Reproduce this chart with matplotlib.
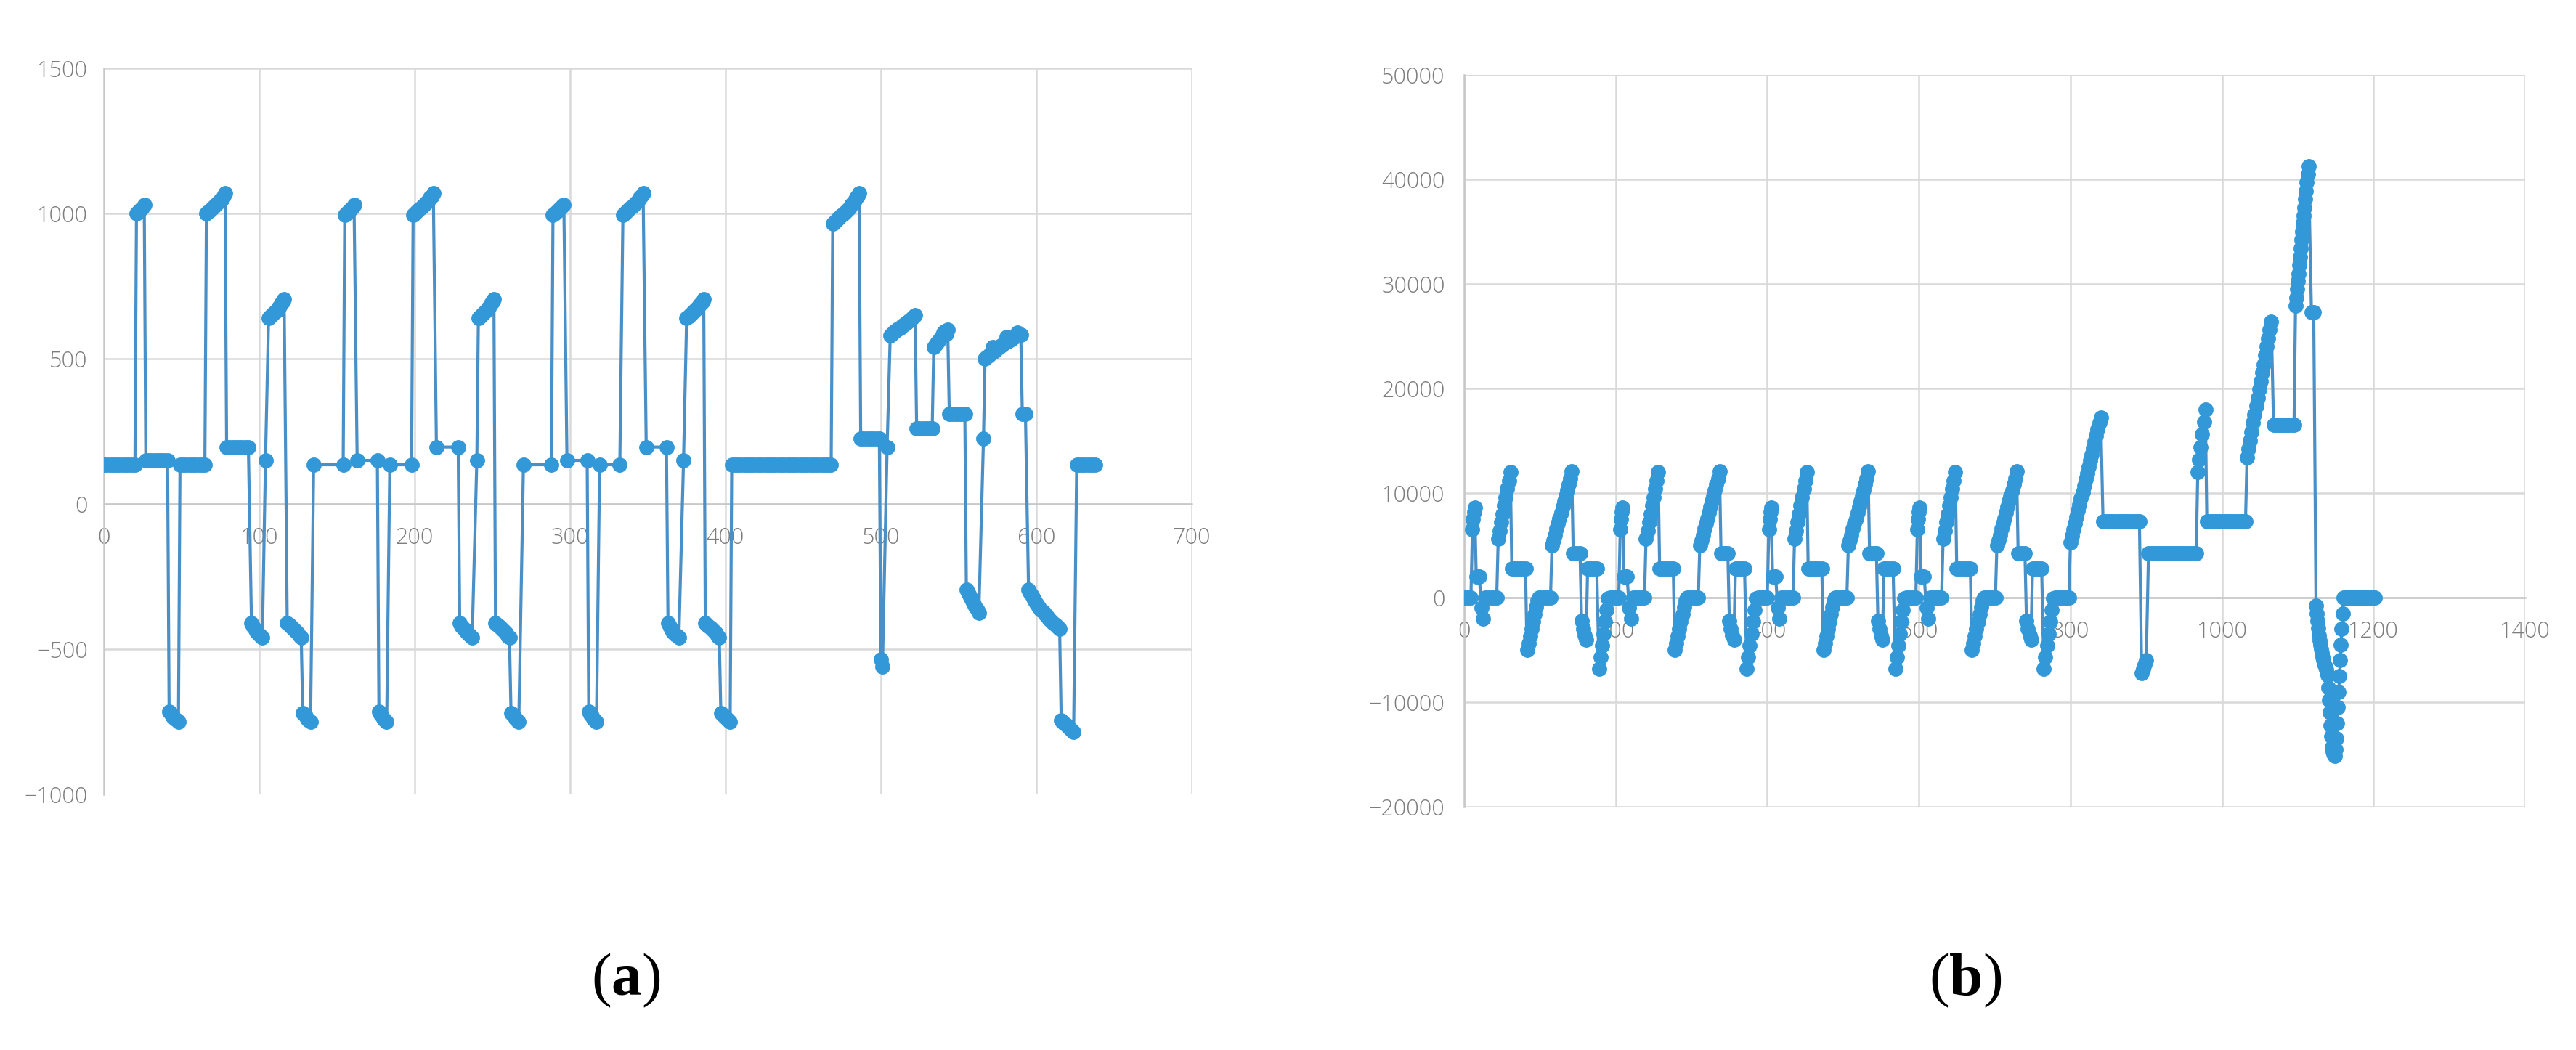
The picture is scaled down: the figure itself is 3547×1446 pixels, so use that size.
import numpy as np
import matplotlib.pyplot as plt

# ---- panel (a) ----
a_x = [0, 2, 4, 6, 8, 10, 12, 14, 16, 18, 20,
       21, 22, 23, 24, 25, 26,
       27, 29, 31, 33, 35, 37, 39, 41,
       42, 43, 44, 45, 46, 47, 48,
       49, 51, 53, 55, 57, 59, 61, 63, 65,
       66, 67, 68, 69, 70, 71, 72, 73, 74, 75, 76, 77, 78,
       79, 81, 83, 85, 87, 89, 91, 93,
       95, 96, 97, 98, 99, 100, 101, 102,
       104,
       106, 107, 108, 109, 110, 111, 112, 113, 114, 115, 116,
       118, 119, 120, 121, 122, 123, 124, 125, 126, 127,
       128, 129, 130, 131, 132, 133,
       135, 154,
       155, 156, 157, 158, 159, 160, 161,
       163, 176,
       177, 178, 179, 180, 181, 182,
       184, 198,
       199, 200, 201, 202, 203, 204, 205, 206, 207, 208, 209, 210, 211, 212,
       214, 228,
       229, 230, 231, 232, 233, 234, 235, 236, 237,
       240,
       241, 242, 243, 244, 245, 246, 247, 248, 249, 250, 251,
       252, 253, 254, 255, 256, 257, 258, 259, 260, 261,
       262, 263, 264, 265, 266, 267,
       270, 288,
       289, 290, 291, 292, 293, 294, 295, 296,
       298, 311,
       312, 313, 314, 315, 316, 317,
       319, 332,
       334, 335, 336, 337, 338, 339, 340, 341, 342, 343, 344, 345, 346, 347,
       349, 362,
       363, 364, 365, 366, 367, 368, 369, 370,
       373,
       375, 376, 377, 378, 379, 380, 381, 382, 383, 384, 385, 386,
       387, 388, 389, 390, 391, 392, 393, 394, 395, 396,
       397, 398, 399, 400, 401, 402, 403,
       404, 406, 408, 410, 412, 414, 416, 418, 420, 422, 424, 426, 428, 430, 432, 434, 436,
       438, 440, 442, 444, 446, 448, 450, 452, 454, 456, 458, 460, 462, 464, 466, 468,
       469, 470, 471, 472, 473, 474, 475, 476, 477, 478, 479, 480, 481, 482, 483, 484, 485, 486,
       487, 489, 491, 493, 495, 497, 499,
       500, 501,
       504,
       506, 507, 508, 509, 510, 511, 512, 513, 514, 515, 516, 517, 518, 519, 520, 521, 522,
       523, 525, 527, 529, 531, 533,
       534, 535, 536, 537, 538, 539, 540, 541, 542, 543,
       544, 546, 548, 550, 552, 554,
       555, 556, 557, 558, 559, 560, 561, 562, 563,
       566,
       567, 568, 569, 570, 571, 572, 573, 574, 575, 576, 577, 578, 579, 580, 581, 582, 583,
       584, 585, 586, 587, 588, 589, 590,
       591, 593,
       595, 596, 597, 598, 599, 600, 601, 602, 603, 604, 605, 606, 607, 608, 609, 610, 611,
       612, 613, 614, 615,
       616, 617, 618, 619, 620, 621, 622, 623, 624,
       626, 628, 630, 632, 634, 636, 638]
a_y = [135, 135, 135, 135, 135, 135, 135, 135, 135, 135, 135,
       1000, 1005, 1010, 1015, 1020, 1030,
       150, 150, 150, 150, 150, 150, 150, 150,
       -715, -720, -730, -735, -740, -745, -750,
       135, 135, 135, 135, 135, 135, 135, 135, 135,
       1000, 1005, 1010, 1015, 1020, 1025, 1030, 1035, 1040, 1045, 1050, 1060, 1070,
       196, 196, 196, 196, 196, 196, 196, 196,
       -410, -420, -430, -440, -445, -450, -455, -460,
       150,
       640, 645, 650, 655, 660, 665, 675, 680, 690, 695, 705,
       -410, -415, -420, -425, -430, -435, -440, -445, -455, -460,
       -720, -725, -730, -740, -745, -750,
       135, 135,
       995, 1000, 1005, 1010, 1015, 1020, 1030,
       150, 150,
       -715, -725, -730, -740, -745, -750,
       135, 135,
       995, 1000, 1005, 1010, 1015, 1020, 1025, 1030, 1035, 1040, 1045, 1055, 1060, 1070,
       196, 196,
       -410, -420, -425, -430, -440, -445, -450, -455, -460,
       150,
       640, 645, 650, 655, 660, 665, 675, 680, 690, 695, 705,
       -410, -415, -420, -425, -430, -435, -440, -445, -455, -460,
       -720, -725, -730, -740, -745, -750,
       135, 135,
       995, 1000, 1005, 1010, 1015, 1020, 1025, 1030,
       150, 150,
       -715, -725, -730, -740, -745, -750,
       135, 135,
       995, 1000, 1005, 1010, 1015, 1020, 1025, 1030, 1035, 1040, 1045, 1055, 1060, 1070,
       196, 196,
       -410, -420, -430, -440, -445, -450, -455, -460,
       150,
       640, 645, 650, 655, 660, 665, 670, 675, 685, 690, 695, 705,
       -410, -415, -420, -425, -430, -435, -440, -445, -455, -460,
       -720, -725, -730, -735, -740, -745, -750,
       134, 134, 134, 134, 134, 134, 134, 134, 134, 134, 134, 134, 134, 134, 134, 134, 134,
       134, 134, 134, 134, 134, 134, 134, 134, 134, 134, 134, 134, 134, 134, 134, 134,
       965, 970, 975, 980, 985, 990, 995, 1000, 1005, 1010, 1015, 1020, 1030, 1035, 1045, 1055, 1060, 1070,
       225, 225, 225, 225, 225, 225, 225,
       -535, -560,
       196,
       580, 585, 590, 595, 598, 602, 606, 610, 614, 618, 622, 626, 630, 635, 640, 645, 650,
       260, 260, 260, 260, 260, 260,
       540, 548, 555, 560, 568, 575, 590, 595, 585, 600,
       310, 310, 310, 310, 310, 310,
       -295, -305, -315, -325, -335, -345, -355, -365, -375,
       225,
       500, 505, 510, 515, 520, 540, 525, 530, 535, 540, 545, 548, 552, 556, 575, 560,
       565, 568, 572, 575, 580, 590, 585, 582,
       310, 310,
       -295, -305, -315, -325, -335, -342, -350, -357, -364, -370, -376, -382, -388, -394, -400,
       -405, -410, -415, -420, -425, -430,
       -745, -750, -755, -760, -765, -770, -775, -780, -785,
       134, 134, 134, 134, 134, 134, 134]

# ---- panel (b) ----
b_x1 = [0, 3, 6, 9, 11, 12, 13, 14, 16, 18, 20, 23, 25, 28, 31, 34, 37, 40, 43,
        45, 47, 49, 51, 53, 55, 57, 59, 61, 63, 66, 69, 72, 75, 78, 81,
        83, 85, 87, 89, 91, 93, 95, 97, 99, 102, 105, 108, 111, 114,
        116, 118, 120, 122, 124, 126, 128, 130, 132, 134, 136, 138, 140, 142,
        144, 147, 150, 153, 155, 157, 159, 161, 163, 166, 169, 172, 175,
        178, 180, 182, 184, 186, 188, 190, 193]
b_x2 = [195, 198, 201, 204, 206, 207, 208, 209, 211, 213, 215, 218, 220, 223, 226, 229, 232, 235, 238,
        240, 242, 244, 246, 248, 250, 252, 254, 256, 258, 261, 264, 267, 270, 273, 276,
        278, 280, 282, 284, 286, 288, 290, 292, 294, 297, 300, 303, 306, 309,
        311, 313, 315, 317, 319, 321, 323, 325, 327, 329, 331, 333, 335, 337,
        339, 342, 345, 348, 350, 352, 354, 356, 358, 361, 364, 367, 370,
        373, 375, 377, 379, 381, 383, 385, 388]
b_x3 = [391, 394, 397, 400, 402, 403, 404, 405, 407, 409, 411, 414, 416, 419, 422, 425, 428, 431, 434,
        436, 438, 440, 442, 444, 446, 448, 450, 452, 454, 457, 460, 463, 466, 469, 472,
        474, 476, 478, 480, 482, 484, 486, 488, 490, 493, 496, 499, 502, 505,
        507, 509, 511, 513, 515, 517, 519, 521, 523, 525, 527, 529, 531, 533,
        535, 538, 541, 544, 546, 548, 550, 552, 554, 557, 560, 563, 566,
        569, 571, 573, 575, 577, 579, 581, 584]
b_x4 = [587, 590, 593, 596, 598, 599, 600, 601, 603, 605, 607, 610, 612, 615, 618, 621, 624, 627, 630,
        632, 634, 636, 638, 640, 642, 644, 646, 648, 650, 653, 656, 659, 662, 665, 668,
        670, 672, 674, 676, 678, 680, 682, 684, 686, 689, 692, 695, 698, 701,
        703, 705, 707, 709, 711, 713, 715, 717, 719, 721, 723, 725, 727, 729,
        731, 734, 737, 740, 742, 744, 746, 748, 750, 753, 756, 759, 762,
        765, 767, 769, 771, 773, 775, 777, 780]
b_cycle_y = [0, 0, 0, 0, 6500, 7500, 8200, 8600, 2000, 2000, 2000, -1000, -2000, 0, 0, 0, 0, 0, 0,
             5600, 6400, 7200, 8000, 8800, 9600, 10400, 11200, 12000,
             2800, 2800, 2800, 2800, 2800, 2800, 2800,
             -5000, -4400, -3700, -3000, -2300, -1600, -900, -300, 0, 0, 0, 0, 0, 0,
             5000, 5500, 6000, 6600, 7100, 7600, 8100, 8700, 9200, 9700, 10300, 10800, 11400, 12100,
             4200, 4200, 4200, 4200, -2200, -3000, -3600, -4000, 2800, 2800, 2800, 2800, 2800,
             -6800, -5700, -4600, -3500, -2300, -1200, -100, 0]
b_x5 = [783, 786, 789, 792, 795, 798,
        800, 802, 804, 806, 808, 810, 812, 814, 816, 818, 820, 822, 824, 826, 828, 830, 832, 834, 836, 838, 840,
        843, 846, 849, 852, 855, 858, 861, 864, 867, 870, 873, 876, 879, 882, 885, 888, 891,
        894, 896, 898, 900,
        903, 906, 909, 912, 915, 918, 921, 924, 927, 930, 933, 936, 939, 942, 945, 948, 951, 954, 957, 960, 963, 966,
        968, 970, 972, 974, 976, 978,
        980, 983, 986, 989, 992, 995, 998, 1001, 1004, 1007, 1010, 1013, 1016, 1019, 1022, 1025, 1028, 1031,
        1033, 1035, 1037, 1039, 1041, 1043, 1045, 1047, 1049, 1051, 1053, 1055, 1057, 1059, 1061, 1063, 1065,
        1068, 1071, 1074, 1077, 1080, 1083, 1086, 1089, 1092, 1095,
        1097, 1098, 1099, 1100, 1101, 1102, 1103, 1104, 1105, 1106, 1107, 1108, 1109, 1110, 1111, 1112, 1113, 1114,
        1118, 1121,
        1124, 1125, 1126, 1127, 1128, 1129, 1130, 1131, 1132, 1133, 1134, 1135, 1136, 1137, 1138, 1139,
        1140, 1141, 1142, 1143, 1144, 1145, 1146, 1147, 1148, 1149,
        1150, 1151, 1152, 1153, 1154, 1155, 1156, 1157, 1158, 1159, 1160,
        1162, 1164, 1166, 1168, 1170, 1172, 1174, 1176, 1178, 1180, 1182, 1184, 1186, 1188, 1190,
        1192, 1194, 1196, 1198, 1200, 1202]
b_y5 = [0, 0, 0, 0, 0, 0,
        5300, 5900, 6500, 7100, 7700, 8300, 8900, 9500, 10100, 10700, 11300, 11900, 12500, 13100, 13700,
        14300, 14900, 15500, 16100, 16700, 17200,
        7300, 7300, 7300, 7300, 7300, 7300, 7300, 7300, 7300, 7300, 7300, 7300, 7300, 7300, 7300, 7300, 7300,
        -7200, -6800, -6400, -6000,
        4200, 4200, 4200, 4200, 4200, 4200, 4200, 4200, 4200, 4200, 4200, 4200, 4200, 4200, 4200, 4200,
        4200, 4200, 4200, 4200, 4200, 4200,
        12000, 13200, 14400, 15600, 16800, 18000,
        7300, 7300, 7300, 7300, 7300, 7300, 7300, 7300, 7300, 7300, 7300, 7300, 7300, 7300, 7300, 7300, 7300, 7300,
        13400, 14200, 15000, 15800, 16700, 17500, 18300, 19100, 19900, 20700, 21500, 22300, 23200, 24000,
        24800, 25600, 26400,
        16500, 16500, 16500, 16500, 16500, 16500, 16500, 16500, 16500, 16500,
        27900, 28700, 29500, 30300, 31000, 31800, 32600, 33400, 34200, 35000, 35800, 36500, 37300, 38100,
        38900, 39700, 40500, 41250,
        27300, 27300,
        -800, -1500, -2200, -2900, -3600, -4100, -4500, -4900, -5300, -5700, -6000, -6300, -6600, -6900,
        -7200, -7400,
        -8600, -9800, -11000, -12200, -13300, -14300, -14700, -14900, -15100, -15150,
        -14500, -13500, -12000, -10500, -9000, -7500, -6000, -4500, -3000, -1500, 0,
        0, 0, 0, 0, 0, 0, 0, 0, 0, 0, 0, 0, 0, 0, 0,
        0, 0, 0, 0, 0, 0]

b_x = b_x1 + b_x2 + b_x3 + b_x4 + b_x5
b_y = b_cycle_y * 4 + b_y5

plt.rcParams['mathtext.fontset'] = 'custom'
plt.rcParams['mathtext.bf'] = 'Liberation Serif:bold'

LINE = '#4a8fc6'
MARK = '#3398d8'
GRID = '#d9d9d9'
TXT = '#7d7d7d'

fig = plt.figure(figsize=(35.48, 14.46), dpi=100)
ax1 = fig.add_axes([0.0403, 0.2434, 0.4222, 0.6916])
ax2 = fig.add_axes([0.5682, 0.2317, 0.4118, 0.6971])


def style(ax, xmax, xstep, ymin, ymax, ystep, ypad):
    ax.set_xlim(0, xmax)
    ax.set_ylim(ymin, ymax)
    ax.set_xticks(np.arange(0, xmax + 1, xstep))
    ax.set_yticks(np.arange(ymin, ymax + 1, ystep))
    ax.grid(True, color=GRID, lw=1.8)
    ax.set_axisbelow(True)
    for s in ['top', 'right']:
        ax.spines[s].set_visible(False)
    ax.spines['bottom'].set_position(('data', 0))
    ax.spines['bottom'].set_color('#c8c8c8')
    ax.spines['left'].set_color('#c8c8c8')
    ax.spines['bottom'].set_linewidth(1.8)
    ax.spines['left'].set_linewidth(1.8)
    ax.tick_params(axis='both', length=0, labelsize=22, labelcolor=TXT)
    ax.tick_params(axis='x', pad=22)
    ax.tick_params(axis='y', pad=ypad)
    for lab in ax.get_xticklabels() + ax.get_yticklabels():
        lab.set_fontfamily('Open Sans')
        lab.set_fontweight('light')


style(ax1, 700, 100, -1000, 1500, 500, 16)
style(ax2, 1400, 200, -20000, 50000, 10000, 19)

ax1.plot(a_x, a_y, color=LINE, lw=3, marker='o', ms=14, mfc=MARK, mec=MARK, zorder=3)
ax2.plot(b_x, b_y, color=LINE, lw=3, marker='o', ms=14, mfc=MARK, mec=MARK, zorder=3)

fig.text(0.243, 0.052, r'($\mathbf{a}$)', fontsize=60, family='Liberation Serif', ha='center', va='baseline')
fig.text(0.7627, 0.052, r'($\mathbf{b}$)', fontsize=60, family='Liberation Serif', ha='center', va='baseline')

fig.savefig('out.png', dpi=100, facecolor='white')
